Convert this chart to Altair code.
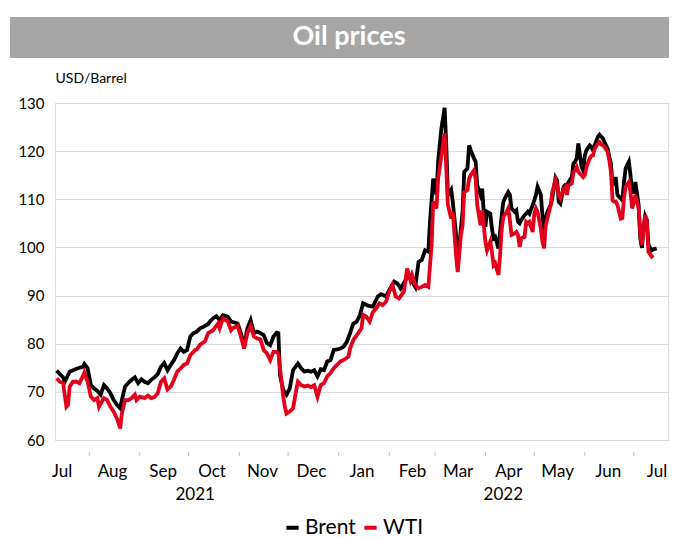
import altair as alt
import pandas as pd

# ---------------- data ----------------
brent_dates = [
    "2021-07-12", "2021-07-14", "2021-07-16", "2021-07-17", "2021-07-19", "2021-07-20",
    "2021-07-25", "2021-07-28", "2021-07-29", "2021-07-31", "2021-08-02", "2021-08-04",
    "2021-08-06", "2021-08-08", "2021-08-10", "2021-08-12", "2021-08-14", "2021-08-16",
    "2021-08-18", "2021-08-20", "2021-08-21", "2021-08-23", "2021-08-25", "2021-08-27",
    "2021-08-29", "2021-08-31", "2021-09-02", "2021-09-04", "2021-09-06", "2021-09-08",
    "2021-09-10", "2021-09-12", "2021-09-14", "2021-09-16", "2021-09-18", "2021-09-20",
    "2021-09-22", "2021-09-24", "2021-09-26", "2021-09-28", "2021-09-30", "2021-10-02",
    "2021-10-04", "2021-10-06", "2021-10-08", "2021-10-10", "2021-10-13", "2021-10-14",
    "2021-10-16", "2021-10-18", "2021-10-20", "2021-10-22", "2021-10-25", "2021-10-27",
    "2021-10-29", "2021-10-31", "2021-11-02", "2021-11-04", "2021-11-06", "2021-11-08",
    "2021-11-10", "2021-11-12", "2021-11-14", "2021-11-16", "2021-11-18", "2021-11-20",
    "2021-11-22", "2021-11-24", "2021-11-25", "2021-11-26", "2021-11-28", "2021-11-30",
    "2021-12-02", "2021-12-04", "2021-12-07", "2021-12-09", "2021-12-11", "2021-12-13",
    "2021-12-15", "2021-12-17", "2021-12-19", "2021-12-21", "2021-12-23", "2021-12-25",
    "2021-12-27", "2021-12-29", "2021-12-31", "2022-01-02", "2022-01-04", "2022-01-06",
    "2022-01-08", "2022-01-10", "2022-01-12", "2022-01-14", "2022-01-16", "2022-01-19",
    "2022-01-22", "2022-01-25", "2022-01-27", "2022-01-30", "2022-02-01", "2022-02-04",
    "2022-02-06", "2022-02-08", "2022-02-11", "2022-02-13", "2022-02-15", "2022-02-17",
    "2022-02-19", "2022-02-21", "2022-02-23", "2022-02-25", "2022-02-26", "2022-02-28",
    "2022-03-02", "2022-03-03", "2022-03-05", "2022-03-07", "2022-03-08", "2022-03-09",
    "2022-03-11", "2022-03-12", "2022-03-14", "2022-03-15", "2022-03-17", "2022-03-18",
    "2022-03-19", "2022-03-21", "2022-03-22", "2022-03-23", "2022-03-25", "2022-03-26",
    "2022-03-27", "2022-03-29", "2022-03-30", "2022-03-31", "2022-04-01", "2022-04-02",
    "2022-04-04", "2022-04-05", "2022-04-06", "2022-04-07", "2022-04-09", "2022-04-10",
    "2022-04-11", "2022-04-12", "2022-04-14", "2022-04-15", "2022-04-16", "2022-04-17",
    "2022-04-19", "2022-04-20", "2022-04-21", "2022-04-22", "2022-04-23", "2022-04-25",
    "2022-04-26", "2022-04-27", "2022-04-28", "2022-04-30", "2022-05-01", "2022-05-02",
    "2022-05-03", "2022-05-05", "2022-05-06", "2022-05-07", "2022-05-08", "2022-05-09",
    "2022-05-11", "2022-05-12", "2022-05-14", "2022-05-15", "2022-05-16", "2022-05-17",
    "2022-05-19", "2022-05-20", "2022-05-21", "2022-05-22", "2022-05-24", "2022-05-25",
    "2022-05-26", "2022-05-27", "2022-05-28", "2022-05-30", "2022-05-31", "2022-06-01",
    "2022-06-02", "2022-06-04", "2022-06-05", "2022-06-06", "2022-06-07", "2022-06-09",
    "2022-06-10", "2022-06-11", "2022-06-12", "2022-06-13", "2022-06-15", "2022-06-16",
    "2022-06-17", "2022-06-18", "2022-06-19", "2022-06-20", "2022-06-21", "2022-06-23",
    "2022-06-24", "2022-06-25", "2022-06-26", "2022-06-28", "2022-06-29", "2022-06-30",
    "2022-07-01", "2022-07-02", "2022-07-04", "2022-07-05", "2022-07-06", "2022-07-07",
    "2022-07-08", "2022-07-09", "2022-07-10", "2022-07-12", "2022-07-13", "2022-07-15",
]
brent_values = [
    74.4, 73.7, 73.0, 72.1, 73.5, 74.2,
    74.9, 75.2, 75.8, 74.9, 71.4, 70.7,
    70.2, 69.4, 71.4, 70.7, 69.7, 68.3,
    67.3, 66.6, 68.3, 71.1, 71.9, 72.5,
    73.0, 71.8, 72.6, 72.1, 71.8, 72.5,
    73.0, 73.7, 75.2, 76.0, 74.5, 75.6,
    76.6, 78.0, 79.0, 78.3, 78.7, 81.5,
    82.2, 82.5, 83.2, 83.5, 84.1, 84.6,
    85.3, 85.7, 84.9, 85.9, 85.6, 84.6,
    84.4, 84.2, 82.2, 79.4, 83.2, 84.9,
    82.2, 82.5, 82.2, 81.8, 80.1, 79.7,
    81.5, 82.3, 82.2, 73.5, 70.4, 69.4,
    70.7, 74.5, 75.9, 74.9, 74.2, 74.4,
    74.2, 74.5, 73.2, 74.7, 74.5, 76.3,
    76.6, 78.7, 78.8, 79.0, 79.4, 80.4,
    82.2, 84.2, 84.6, 85.9, 88.4, 87.9,
    87.7, 89.8, 90.3, 89.8, 91.1, 92.9,
    92.5, 91.5, 93.2, 94.3, 92.9, 91.8,
    97.0, 97.4, 99.4, 99.1, 105.3, 114.3,
    110.9, 117.8, 124.7, 129.0, 121.2, 110.9,
    112.0, 109.5, 102.6, 96.7, 104.0, 107.4,
    115.7, 116.4, 121.2, 120.2, 118.5, 117.8,
    112.9, 110.9, 112.2, 107.4, 104.3, 107.4,
    107.0, 103.9, 101.9, 102.2, 99.8, 103.2,
    106.7, 109.5, 110.9, 111.5, 110.9, 108.1,
    107.4, 107.7, 105.3, 105.0, 105.7, 106.7,
    107.0, 107.4, 107.0, 108.8, 109.8, 110.9,
    112.6, 110.9, 106.7, 102.6, 106.0, 107.4,
    108.8, 110.2, 114.5, 113.9, 109.5, 109.1,
    112.6, 113.0, 112.9, 113.6, 114.6, 117.4,
    117.8, 118.5, 121.6, 116.7, 116.0, 119.1,
    120.2, 121.2, 120.9, 120.2, 121.2, 123.0,
    123.4, 123.0, 122.7, 121.9, 120.5, 118.8,
    117.4, 112.9, 114.3, 114.3, 110.9, 110.2,
    109.8, 113.6, 116.4, 117.8, 115.0, 111.5,
    111.5, 113.6, 108.8, 101.9, 99.9, 104.0,
    106.5, 105.7, 100.5, 99.4, 99.6, 99.8,
]

wti_dates = [
    "2021-07-12", "2021-07-14", "2021-07-16", "2021-07-18", "2021-07-19", "2021-07-20",
    "2021-07-22", "2021-07-24", "2021-07-26", "2021-07-28", "2021-07-29", "2021-07-31",
    "2021-08-02", "2021-08-04", "2021-08-06", "2021-08-07", "2021-08-10", "2021-08-12",
    "2021-08-14", "2021-08-16", "2021-08-18", "2021-08-20", "2021-08-21", "2021-08-23",
    "2021-08-25", "2021-08-27", "2021-08-29", "2021-08-30", "2021-09-01", "2021-09-04",
    "2021-09-06", "2021-09-08", "2021-09-10", "2021-09-12", "2021-09-14", "2021-09-16",
    "2021-09-18", "2021-09-20", "2021-09-22", "2021-09-24", "2021-09-27", "2021-09-28",
    "2021-09-30", "2021-10-02", "2021-10-05", "2021-10-06", "2021-10-08", "2021-10-11",
    "2021-10-13", "2021-10-16", "2021-10-19", "2021-10-20", "2021-10-22", "2021-10-25",
    "2021-10-27", "2021-10-28", "2021-10-31", "2021-11-02", "2021-11-04", "2021-11-06",
    "2021-11-08", "2021-11-10", "2021-11-12", "2021-11-14", "2021-11-16", "2021-11-18",
    "2021-11-20", "2021-11-22", "2021-11-24", "2021-11-25", "2021-11-28", "2021-11-29",
    "2021-11-30", "2021-12-02", "2021-12-04", "2021-12-06", "2021-12-07", "2021-12-09",
    "2021-12-11", "2021-12-13", "2021-12-15", "2021-12-17", "2021-12-19", "2021-12-21",
    "2021-12-23", "2021-12-25", "2021-12-27", "2021-12-29", "2021-12-31", "2022-01-02",
    "2022-01-04", "2022-01-07", "2022-01-08", "2022-01-10", "2022-01-13", "2022-01-15",
    "2022-01-16", "2022-01-18", "2022-01-20", "2022-01-22", "2022-01-24", "2022-01-26",
    "2022-01-28", "2022-01-30", "2022-02-01", "2022-02-03", "2022-02-05", "2022-02-07",
    "2022-02-10", "2022-02-12", "2022-02-14", "2022-02-15", "2022-02-17", "2022-02-19",
    "2022-02-21", "2022-02-23", "2022-02-25", "2022-02-27", "2022-02-28", "2022-03-02",
    "2022-03-03", "2022-03-05", "2022-03-07", "2022-03-08", "2022-03-09", "2022-03-11",
    "2022-03-12", "2022-03-14", "2022-03-15", "2022-03-17", "2022-03-18", "2022-03-19",
    "2022-03-21", "2022-03-22", "2022-03-23", "2022-03-25", "2022-03-26", "2022-03-27",
    "2022-03-29", "2022-03-30", "2022-03-31", "2022-04-01", "2022-04-02", "2022-04-04",
    "2022-04-05", "2022-04-06", "2022-04-07", "2022-04-09", "2022-04-10", "2022-04-11",
    "2022-04-12", "2022-04-14", "2022-04-15", "2022-04-16", "2022-04-17", "2022-04-19",
    "2022-04-20", "2022-04-21", "2022-04-22", "2022-04-23", "2022-04-25", "2022-04-26",
    "2022-04-27", "2022-04-28", "2022-04-30", "2022-05-01", "2022-05-02", "2022-05-03",
    "2022-05-05", "2022-05-06", "2022-05-07", "2022-05-08", "2022-05-09", "2022-05-11",
    "2022-05-12", "2022-05-14", "2022-05-15", "2022-05-16", "2022-05-17", "2022-05-19",
    "2022-05-20", "2022-05-21", "2022-05-22", "2022-05-24", "2022-05-25", "2022-05-26",
    "2022-05-27", "2022-05-28", "2022-05-30", "2022-05-31", "2022-06-01", "2022-06-02",
    "2022-06-04", "2022-06-05", "2022-06-06", "2022-06-07", "2022-06-09", "2022-06-10",
    "2022-06-11", "2022-06-12", "2022-06-13", "2022-06-15", "2022-06-16", "2022-06-17",
    "2022-06-18", "2022-06-19", "2022-06-20", "2022-06-21", "2022-06-23", "2022-06-24",
    "2022-06-25", "2022-06-26", "2022-06-28", "2022-06-29", "2022-06-30", "2022-07-01",
    "2022-07-02", "2022-07-04", "2022-07-05", "2022-07-06", "2022-07-07", "2022-07-08",
    "2022-07-09", "2022-07-10", "2022-07-12", "2022-07-13",
]
wti_values = [
    72.8, 72.1, 71.8, 66.9, 67.3, 71.1,
    72.1, 72.1, 71.8, 73.2, 74.0, 72.1,
    69.0, 68.3, 68.7, 66.9, 68.7, 68.3,
    66.9, 65.9, 64.5, 62.4, 65.5, 68.3,
    68.3, 68.7, 69.4, 68.3, 69.0, 68.7,
    69.2, 68.7, 68.9, 69.7, 72.1, 72.8,
    70.5, 71.1, 72.5, 74.2, 75.2, 75.6,
    75.9, 77.6, 78.7, 78.8, 79.8, 80.5,
    82.2, 82.8, 84.2, 83.2, 85.3, 84.6,
    82.8, 83.2, 83.7, 81.5, 79.0, 82.2,
    83.7, 81.5, 81.1, 80.9, 78.7, 78.0,
    76.6, 78.3, 78.3, 78.0, 69.0, 66.9,
    65.5, 65.9, 66.6, 70.4, 72.1, 71.4,
    71.1, 71.3, 71.0, 71.4, 69.0, 71.4,
    71.8, 73.2, 73.9, 74.9, 75.6, 76.3,
    76.6, 77.3, 79.0, 80.8, 82.2, 83.2,
    86.0, 85.6, 84.6, 86.6, 87.3, 88.4,
    88.0, 88.7, 90.8, 92.2, 89.8, 89.4,
    90.8, 95.6, 93.2, 94.3, 92.2, 91.5,
    91.8, 92.2, 91.8, 100.5, 109.5, 108.1,
    114.3, 119.1, 123.7, 116.4, 108.8, 106.0,
    107.4, 98.4, 94.9, 102.6, 104.6, 111.5,
    111.9, 114.3, 115.0, 116.0, 114.3, 108.8,
    104.6, 107.7, 104.6, 101.2, 99.4, 101.2,
    99.1, 96.3, 96.7, 94.3, 98.4, 103.9,
    106.3, 107.4, 108.1, 105.7, 102.6, 102.9,
    103.2, 102.6, 100.1, 101.9, 102.2, 105.3,
    105.0, 105.3, 103.2, 107.0, 108.1, 107.4,
    103.9, 101.2, 99.8, 104.6, 106.0, 108.8,
    111.5, 114.0, 112.9, 110.9, 110.2, 112.2,
    112.6, 110.9, 112.9, 113.3, 115.7, 116.0,
    116.7, 115.7, 115.0, 114.6, 115.0, 116.7,
    118.5, 119.0, 119.1, 120.5, 121.6, 121.9,
    121.4, 121.2, 120.9, 119.8, 118.1, 115.7,
    109.8, 109.5, 109.5, 108.8, 106.0, 106.1,
    110.2, 112.6, 113.6, 111.5, 108.1, 109.5,
    110.9, 108.1, 102.6, 100.5, 103.9, 106.7,
    105.7, 99.1, 98.1, 98.4,
]

series_names = ["Brent", "WTI"]
series_colors = ["#000000", "#e2001a"]

month_label_dates = [
    (2021, 7), (2021, 8), (2021, 9), (2021, 10), (2021, 11), (2021, 12),
    (2022, 1), (2022, 2), (2022, 3), (2022, 4), (2022, 5), (2022, 6), (2022, 7),
]
month_tick_dates = [
    "2021-08-01", "2021-09-01", "2021-10-01", "2021-11-01", "2021-12-01", "2022-01-01",
    "2022-02-01", "2022-03-01", "2022-04-01", "2022-05-01", "2022-06-01", "2022-07-01",
]
year_labels = ["2021", "2022"]
year_label_dates = ["2021-10-05", "2022-04-12"]
y_ticks = [60, 70, 80, 90, 100, 110, 120, 130]

title_text = "Oil prices"
unit_text = "USD/Barrel"

# ---------------- chart ----------------
FONT = "Lato"
W, H = 613, 337

df = pd.DataFrame({
    "date": brent_dates + wti_dates,
    "price": brent_values + wti_values,
    "series": ["Brent"] * len(brent_dates) + ["WTI"] * len(wti_dates),
})

x_scale = alt.Scale(
    type="utc",
    domain=[alt.DateTime(year=2021, month=7, date=11, utc=True),
            alt.DateTime(year=2022, month=7, date=22, utc=True)],
)
y_scale = alt.Scale(domain=[60, 130], nice=False, zero=False)

x_axis = alt.Axis(
    values=[alt.DateTime(year=y, month=m, date=15, utc=True) for y, m in month_label_dates],
    format="%b", title=None, grid=False, domain=False, ticks=False, tickSize=0,
    labelPadding=23, labelFont=FONT, labelFontSize=17, labelColor="#000000",
    labelOverlap=False, labelFlush=False,
)
y_axis = alt.Axis(
    values=y_ticks, title=unit_text, titleAngle=0, titleAlign="left", titleBaseline="middle",
    titleX=0, titleY=-25, titleFont=FONT, titleFontSize=14, titleFontWeight="normal",
    titleColor="#000000", grid=True, gridColor="#d9d9d9", gridWidth=1, domain=False,
    ticks=False, tickSize=0, labelPadding=11, labelFont=FONT, labelFontSize=15,
    labelColor="#000000",
)

color = alt.Color(
    "series:N",
    scale=alt.Scale(domain=series_names, range=series_colors),
    legend=alt.Legend(
        title=None, orient="none", direction="horizontal", legendX=227, legendY=414,
        symbolType="stroke", symbolStrokeWidth=4, symbolSize=150,
        labelFont=FONT, labelFontSize=21, labelColor="#000000",
        labelOffset=2, columnPadding=0, padding=0,
    ),
)

base = alt.Chart(df).encode(
    x=alt.X("date:T", scale=x_scale, axis=x_axis),
    y=alt.Y("price:Q", scale=y_scale, axis=y_axis),
    color=color,
)
brent = base.transform_filter(alt.datum.series == "Brent").mark_line(strokeWidth=3.8)
wti = base.transform_filter(alt.datum.series == "WTI").mark_line(strokeWidth=3.8)

ticks_df = pd.DataFrame({"date": month_tick_dates})
tick_marks = alt.Chart(ticks_df).mark_rule(color="#bfbfbf", strokeWidth=1).encode(
    x=alt.X("date:T", scale=x_scale),
    y=alt.value(H + 12),
    y2=alt.value(H + 16),
)

years_df = pd.DataFrame({"date": year_label_dates, "label": year_labels})
year_text = alt.Chart(years_df).mark_text(
    font=FONT, fontSize=17, color="#000000", baseline="middle", align="center"
).encode(
    x=alt.X("date:T", scale=x_scale),
    y=alt.value(H + 55),
    text="label:N",
)

banner_df = pd.DataFrame({"label": [title_text]})
banner = alt.Chart(banner_df).mark_rect(color="#a6a6a6").encode(
    x=alt.value(-45), x2=alt.value(W + 1), y=alt.value(-86), y2=alt.value(-45)
)
banner_text = alt.Chart(banner_df).mark_text(
    font=FONT, fontSize=27, fontWeight="bold", color="#ffffff", align="center", baseline="middle"
).encode(x=alt.value(294), y=alt.value(-66), text="label:N")

chart = alt.layer(banner, banner_text, tick_marks, year_text, brent, wti).properties(
    width=W, height=H,
    padding={"left": 47, "top": 95, "right": 1, "bottom": 100},
    autosize=alt.AutoSizeParams(type="none"),
).configure_view(stroke=None).configure(background="#ffffff")

chart.save("out.html", embed_options={"renderer": "svg", "actions": False})
